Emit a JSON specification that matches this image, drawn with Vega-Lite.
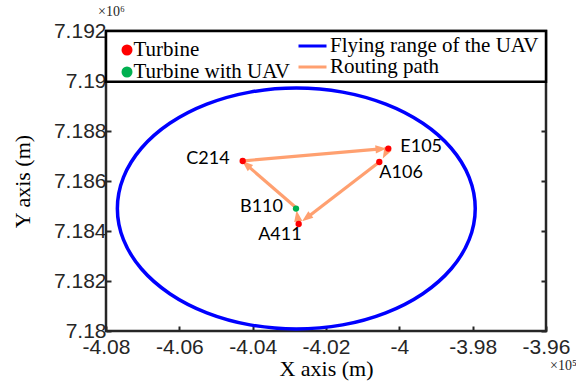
{
  "$schema": "https://vega.github.io/schema/vega-lite/v6.json",
  "width": 440,
  "height": 300,
  "autosize": {"type": "none"},
  "padding": {"left": 106, "top": 31, "right": 30, "bottom": 50},
  "background": "white",
  "datasets": {
    "turbines": [
      {"name": "E105", "type": "Turbine", "x": -4.00301, "y": 7.187296},
      {"name": "A106", "type": "Turbine", "x": -4.00546, "y": 7.18676},
      {"name": "C214", "type": "Turbine", "x": -4.04272, "y": 7.1868},
      {"name": "A411", "type": "Turbine", "x": -4.02745, "y": 7.18428},
      {"name": "B110", "type": "Turbine with UAV", "x": -4.02818, "y": 7.184896}
    ],
    "range": [
      {"i": 0, "kind": "Flying range of the UAV", "x": -3.9793, "y": 7.1849},
      {"i": 1, "kind": "Flying range of the UAV", "x": -3.98096, "y": 7.186148},
      {"i": 2, "kind": "Flying range of the UAV", "x": -3.98584, "y": 7.18731},
      {"i": 3, "kind": "Flying range of the UAV", "x": -3.99359, "y": 7.188308},
      {"i": 4, "kind": "Flying range of the UAV", "x": -4.0037, "y": 7.189074},
      {"i": 5, "kind": "Flying range of the UAV", "x": -4.01547, "y": 7.189556},
      {"i": 6, "kind": "Flying range of the UAV", "x": -4.0281, "y": 7.18972},
      {"i": 7, "kind": "Flying range of the UAV", "x": -4.04073, "y": 7.189556},
      {"i": 8, "kind": "Flying range of the UAV", "x": -4.0525, "y": 7.189074},
      {"i": 9, "kind": "Flying range of the UAV", "x": -4.06261, "y": 7.188308},
      {"i": 10, "kind": "Flying range of the UAV", "x": -4.07036, "y": 7.18731},
      {"i": 11, "kind": "Flying range of the UAV", "x": -4.07524, "y": 7.186148},
      {"i": 12, "kind": "Flying range of the UAV", "x": -4.0769, "y": 7.1849},
      {"i": 13, "kind": "Flying range of the UAV", "x": -4.07524, "y": 7.183652},
      {"i": 14, "kind": "Flying range of the UAV", "x": -4.07036, "y": 7.18249},
      {"i": 15, "kind": "Flying range of the UAV", "x": -4.06261, "y": 7.181492},
      {"i": 16, "kind": "Flying range of the UAV", "x": -4.0525, "y": 7.180726},
      {"i": 17, "kind": "Flying range of the UAV", "x": -4.04073, "y": 7.180244},
      {"i": 18, "kind": "Flying range of the UAV", "x": -4.0281, "y": 7.18008},
      {"i": 19, "kind": "Flying range of the UAV", "x": -4.01547, "y": 7.180244},
      {"i": 20, "kind": "Flying range of the UAV", "x": -4.0037, "y": 7.180726},
      {"i": 21, "kind": "Flying range of the UAV", "x": -3.99359, "y": 7.181492},
      {"i": 22, "kind": "Flying range of the UAV", "x": -3.98584, "y": 7.18249},
      {"i": 23, "kind": "Flying range of the UAV", "x": -3.98096, "y": 7.183652}
    ],
    "route": [
      {"from": "B110", "to": "C214", "kind": "Routing path", "x": -4.02846, "y": 7.18497, "x2": -4.04174, "y2": 7.186656},
      {"from": "C214", "to": "E105", "kind": "Routing path", "x": -4.04236, "y": 7.186808, "x2": -4.005, "y2": 7.187284},
      {"from": "E105", "to": "A106", "kind": "Routing path", "x": -4.00309, "y": 7.187288, "x2": -4.0038, "y2": 7.187096},
      {"from": "A106", "to": "A411", "kind": "Routing path", "x": -4.00555, "y": 7.186748, "x2": -4.02532, "y2": 7.184524},
      {"from": "A411", "to": "B110", "kind": "Routing path", "x": -4.02745, "y": 7.18428, "x2": -4.0278, "y2": 7.184604}
    ],
    "exp6": [{"x": -4.08, "y": 7.192, "t": "×10⁶"}],
    "exp5": [{"x": -3.96, "y": 7.18, "t": "×10⁵"}],
    "box": [{"x": -4.08, "x2": -3.96, "y": 7.18997, "y2": 7.192}]
  },
  "config": {
    "view": {"stroke": "#262626", "strokeWidth": 2.5},
    "axis": {
      "domain": false,
      "grid": false,
      "ticks": true,
      "tickSize": -5,
      "tickWidth": 2,
      "tickColor": "#262626",
      "labelFont": "Liberation Sans",
      "labelFontSize": 21,
      "labelColor": "#262626",
      "labelFlush": false,
      "labelOverlap": false,
      "titleFont": "Liberation Serif",
      "titleFontSize": 22,
      "titleFontWeight": "normal",
      "titleColor": "#000000"
    }
  },
  "layer": [
    {
      "data": {"name": "range"},
      "mark": {"type": "line", "strokeWidth": 3.5, "interpolate": "cardinal-closed"},
      "encoding": {
        "x": {
          "field": "x", "type": "quantitative",
          "scale": {"domain": [-4.08, -3.96], "nice": false, "zero": false},
          "axis": {
            "values": [-4.08, -4.06, -4.04, -4.02, -4, -3.98, -3.96],
            "format": "~g",
            "labelExpr": "replace(datum.label, '−', '-')",
            "labelPadding": 10,
            "title": "X axis (m)",
            "titlePadding": 1
          }
        },
        "y": {
          "field": "y", "type": "quantitative",
          "scale": {"domain": [7.18, 7.192], "nice": false, "zero": false},
          "axis": {
            "values": [7.18, 7.182, 7.184, 7.186, 7.188, 7.19, 7.192],
            "format": "~g",
            "labelPadding": 5,
            "title": "Y axis (m)",
            "titlePadding": 19
          }
        },
        "order": {"field": "i", "type": "quantitative"},
        "stroke": {
          "field": "kind", "type": "nominal",
          "scale": {"domain": ["Flying range of the UAV", "Routing path"], "range": ["#0000FF", "#FFA070"]},
          "legend": {
            "orient": "none", "legendX": 191, "legendY": 5, "title": null,
            "symbolType": "stroke", "symbolSize": 784, "symbolStrokeWidth": 3,
            "labelFont": "Liberation Serif", "labelFontSize": 21, "labelColor": "#000000",
            "labelOffset": 2, "rowPadding": 0, "clipHeight": 20, "padding": 0, "labelLimit": 400
          }
        }
      }
    },
    {
      "data": {"name": "route"},
      "mark": {"type": "rule", "strokeWidth": 3.2},
      "encoding": {
        "x": {"field": "x", "type": "quantitative", "scale": {"domain": [-4.08, -3.96], "nice": false, "zero": false}},
        "y": {"field": "y", "type": "quantitative", "scale": {"domain": [7.18, 7.192], "nice": false, "zero": false}, "axis": null},
        "x2": {"field": "x2"},
        "y2": {"field": "y2"},
        "stroke": {"field": "kind", "type": "nominal"}
      }
    },
    {
      "data": {"name": "route"},
      "transform": [
        {"calculate": "atan2((datum.x2 - datum.x) * 3666.7, (datum.y2 - datum.y) * 25000) * 180 / PI", "as": "ang"}
      ],
      "mark": {"type": "point", "filled": true, "shape": "M0,-1L-0.75,1L0.75,1Z", "size": 120, "color": "#FFA070", "strokeWidth": 0, "opacity": 1},
      "encoding": {
        "x": {"field": "x2", "type": "quantitative", "scale": {"domain": [-4.08, -3.96], "nice": false, "zero": false}},
        "y": {"field": "y2", "type": "quantitative", "scale": {"domain": [7.18, 7.192], "nice": false, "zero": false}, "axis": null},
        "angle": {"field": "ang", "type": "quantitative", "scale": null}
      }
    },
    {
      "data": {"name": "turbines"},
      "mark": {"type": "point", "filled": true, "size": 40, "strokeWidth": 0, "opacity": 1},
      "encoding": {
        "x": {"field": "x", "type": "quantitative", "scale": {"domain": [-4.08, -3.96], "nice": false, "zero": false}},
        "y": {"field": "y", "type": "quantitative", "scale": {"domain": [7.18, 7.192], "nice": false, "zero": false}, "axis": null},
        "fill": {
          "field": "type", "type": "nominal",
          "scale": {"domain": ["Turbine", "Turbine with UAV"], "range": ["#FF0000", "#00B050"]},
          "legend": {
            "orient": "none", "legendX": 10.5, "legendY": 9.5, "title": null,
            "symbolType": "circle", "symbolSize": 121, "symbolStrokeWidth": 0,
            "labelFont": "Liberation Serif", "labelFontSize": 21, "labelColor": "#000000",
            "labelOffset": -4, "rowPadding": 0, "clipHeight": 19, "padding": 0, "labelLimit": 400
          }
        }
      }
    },
    {
      "data": {"name": "turbines"},
      "transform": [{"filter": "datum.name == 'C214' || datum.name == 'B110'"}],
      "mark": {"type": "text", "font": "Lato", "fontSize": 18, "color": "#000000", "align": "right", "baseline": "middle", "dx": -13, "dy": -2},
      "encoding": {
        "x": {"field": "x", "type": "quantitative", "scale": {"domain": [-4.08, -3.96], "nice": false, "zero": false}},
        "y": {"field": "y", "type": "quantitative", "scale": {"domain": [7.18, 7.192], "nice": false, "zero": false}, "axis": null},
        "text": {"field": "name"}
      }
    },
    {
      "data": {"name": "turbines"},
      "transform": [{"filter": "datum.name == 'E105'"}],
      "mark": {"type": "text", "font": "Lato", "fontSize": 18, "color": "#000000", "align": "left", "baseline": "middle", "dx": 12, "dy": -2},
      "encoding": {
        "x": {"field": "x", "type": "quantitative", "scale": {"domain": [-4.08, -3.96], "nice": false, "zero": false}},
        "y": {"field": "y", "type": "quantitative", "scale": {"domain": [7.18, 7.192], "nice": false, "zero": false}, "axis": null},
        "text": {"field": "name"}
      }
    },
    {
      "data": {"name": "turbines"},
      "transform": [{"filter": "datum.name == 'A106'"}],
      "mark": {"type": "text", "font": "Lato", "fontSize": 18, "color": "#000000", "align": "left", "baseline": "middle", "dx": 0, "dy": 11},
      "encoding": {
        "x": {"field": "x", "type": "quantitative", "scale": {"domain": [-4.08, -3.96], "nice": false, "zero": false}},
        "y": {"field": "y", "type": "quantitative", "scale": {"domain": [7.18, 7.192], "nice": false, "zero": false}, "axis": null},
        "text": {"field": "name"}
      }
    },
    {
      "data": {"name": "turbines"},
      "transform": [{"filter": "datum.name == 'A411'"}],
      "mark": {"type": "text", "font": "Lato", "fontSize": 18, "color": "#000000", "align": "right", "baseline": "middle", "dx": 3, "dy": 11},
      "encoding": {
        "x": {"field": "x", "type": "quantitative", "scale": {"domain": [-4.08, -3.96], "nice": false, "zero": false}},
        "y": {"field": "y", "type": "quantitative", "scale": {"domain": [7.18, 7.192], "nice": false, "zero": false}, "axis": null},
        "text": {"field": "name"}
      }
    },
    {
      "data": {"name": "exp6"},
      "mark": {"type": "text", "font": "Liberation Serif", "fontSize": 14, "color": "#262626", "align": "left", "baseline": "middle", "dx": -8, "dy": -19, "clip": false},
      "encoding": {
        "x": {"field": "x", "type": "quantitative", "scale": {"domain": [-4.08, -3.96], "nice": false, "zero": false}},
        "y": {"field": "y", "type": "quantitative", "scale": {"domain": [7.18, 7.192], "nice": false, "zero": false}, "axis": null},
        "text": {"field": "t"}
      }
    },
    {
      "data": {"name": "exp5"},
      "mark": {"type": "text", "font": "Liberation Serif", "fontSize": 14, "color": "#262626", "align": "left", "baseline": "middle", "dx": 4, "dy": 35, "clip": false},
      "encoding": {
        "x": {"field": "x", "type": "quantitative", "scale": {"domain": [-4.08, -3.96], "nice": false, "zero": false}},
        "y": {"field": "y", "type": "quantitative", "scale": {"domain": [7.18, 7.192], "nice": false, "zero": false}, "axis": null},
        "text": {"field": "t"}
      }
    },
    {
      "data": {"name": "box"},
      "mark": {"type": "rect", "fill": "#FFFFFF", "stroke": "#000000", "strokeWidth": 2.5},
      "encoding": {
        "x": {"field": "x", "type": "quantitative", "scale": {"domain": [-4.08, -3.96], "nice": false, "zero": false}},
        "x2": {"field": "x2"},
        "y": {
          "field": "y", "type": "quantitative",
          "scale": {"domain": [7.18, 7.192], "nice": false, "zero": false},
          "axis": {
            "orient": "right",
            "values": [7.18, 7.182, 7.184, 7.186, 7.188, 7.19, 7.192],
            "labels": false,
            "title": null
          }
        },
        "y2": {"field": "y2"}
      }
    }
  ],
  "resolve": {"axis": {"y": "independent"}}
}
